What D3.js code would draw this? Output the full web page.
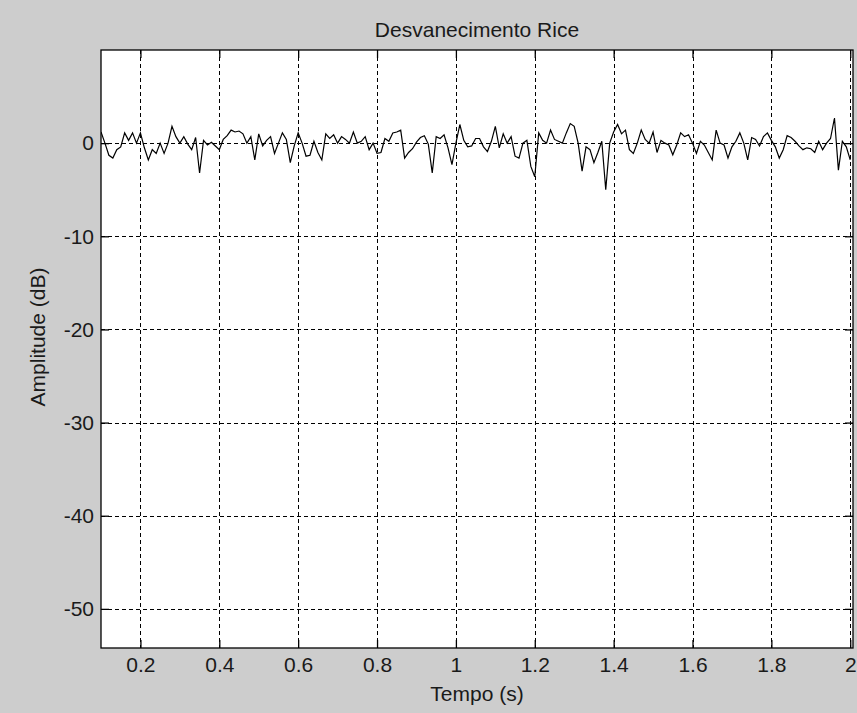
<!DOCTYPE html>
<html>
<head>
<meta charset="utf-8">
<script src="https://cdn.jsdelivr.net/npm/d3@7"></script>
<style>
  html, body { margin: 0; padding: 0; background: #cdcdcd; }
  svg { display: block; }
  text { font-family: "Liberation Sans", Arial, sans-serif; fill: #1a1a1a; }
</style>
</head>
<body>
<svg id="chart" width="857" height="713"></svg>
<script>
// ---- data ----
const title = "Desvanecimento Rice";
const xLabel = "Tempo (s)";
const yLabel = "Amplitude (dB)";
const tStart = 0.10;      // first sample time (s)
const tStep = 0.01;       // sampling interval (s)
const amplitudeDb = [
  1.2, 0.0, -1.3, -1.6, -0.7, -0.4, 1.1, 0.3, 1.1, 0.0,
  1.1, -0.5, -1.8, -0.7, -1.1, 0.0, -1.1, 0.0, 1.8, 0.7,
  0.0, 0.7, -0.1, -0.7, 0.6, -3.2, 0.3, -0.2, 0.1, -0.3,
  -0.7, 0.4, 0.8, 1.4, 1.2, 1.3, 1.0, 0.0, 0.7, -1.8,
  1.0, -0.3, 0.3, 0.7, -1.1, 0.0, 1.1, 0.4, -2.1, -0.3,
  1.1, 0.0, -1.4, -1.3, 0.2, -1.0, -1.8, 1.0, 0.5, 0.9,
  0.0, 0.7, 0.4, 0.0, 1.2, 0.0, 0.2, 0.7, -0.7, 0.0,
  -1.1, -1.0, 0.5, 0.2, 1.1, 1.2, 1.4, -1.6, -1.0, -0.6,
  0.1, 0.6, 0.8, -0.1, -3.2, 0.7, 0.5, 0.9, -0.5, -2.3,
  0.0, 2.0, 0.3, -0.4, -0.3, 0.5, 0.5, -0.4, -0.9, 0.2,
  1.8, -0.5, 1.0, 0.0, 0.7, -1.4, -1.6, 0.0, 0.3, -2.5,
  -3.6, 1.1, 0.3, 0.0, 1.4, 0.4, 0.2, 0.0, 1.1, 2.1,
  1.8, 0.0, -3.0, -0.4, -0.7, -2.1, -1.0, 0.2, -5.0, 0.0,
  1.2, 2.0, 1.0, 1.4, -0.7, -1.1, 0.0, 1.4, 0.4, 0.0,
  1.2, -1.0, 0.3, 0.0, -0.2, -1.25, -0.2, 1.1, 0.7, 0.9,
  0.0, -1.1, 0.2, -0.2, -1.0, -1.8, 1.4, 0.0, -0.2, -1.6,
  -0.4, 0.2, 1.1, 0.0, -1.8, 0.6, 0.4, -0.3, 0.7, 1.1,
  0.3, -0.4, -1.6, -0.7, 0.8, 0.6, 0.2, -0.3, -0.7, -0.5,
  -0.6, -1.0, 0.2, -0.7, 0.0, 0.5, 2.7, -2.9, 0.2, -0.4,
  -1.8
];
const xTicks = [0.2, 0.4, 0.6, 0.8, 1.0, 1.2, 1.4, 1.6, 1.8, 2.0];
const xTickLabels = ["0.2", "0.4", "0.6", "0.8", "1", "1.2", "1.4", "1.6", "1.8", "2"];
const yTicks = [0, -10, -20, -30, -40, -50];
const yTickLabels = ["0", "-10", "-20", "-30", "-40", "-50"];
const xDomain = [0.1, 2.007];
const yDomain = [-54.2, 10];

// ---- layout ----
const svg = d3.select("#chart");
const L = 101, R = 853, T = 50, B = 648;
const W = R - L, H = B - T;
const fontSize = 21;

const x = d3.scaleLinear().domain(xDomain).range([L, R]);
const y = d3.scaleLinear().domain(yDomain).range([B, T]);

const data = amplitudeDb.map((v, i) => ({ t: tStart + i * tStep, v }));

// plot background
svg.append("rect").attr("x", L).attr("y", T).attr("width", W).attr("height", H).attr("fill", "#ffffff");

// grid lines (dashed)
const grid = svg.append("g").attr("stroke", "#000").attr("stroke-width", 1).attr("stroke-dasharray", "4,3");
grid.selectAll("line.gx").data(xTicks).join("line")
  .attr("x1", d => Math.round(x(d)) + 0.5).attr("x2", d => Math.round(x(d)) + 0.5)
  .attr("y1", T).attr("y2", B);
grid.selectAll("line.gy").data(yTicks).join("line")
  .attr("y1", d => Math.round(y(d)) + 0.5).attr("y2", d => Math.round(y(d)) + 0.5)
  .attr("x1", L).attr("x2", R);

// clip
svg.append("clipPath").attr("id", "clip").append("rect")
  .attr("x", L).attr("y", T).attr("width", W).attr("height", H);

// data line
const line = d3.line().x(d => x(d.t)).y(d => y(d.v));
svg.append("path").datum(data)
  .attr("clip-path", "url(#clip)")
  .attr("fill", "none").attr("stroke", "#000").attr("stroke-width", 1.2)
  .attr("stroke-linejoin", "miter")
  .attr("d", line);

// axes with inward ticks
const tickLen = 8;
const fmtX = (d, i) => xTickLabels[i];
const fmtY = (d, i) => yTickLabels[i];

const axB = svg.append("g").attr("transform", `translate(0,${B})`)
  .call(d3.axisBottom(x).tickValues(xTicks).tickFormat(fmtX).tickSize(-tickLen).tickPadding(9));
const axT = svg.append("g").attr("transform", `translate(0,${T})`)
  .call(d3.axisTop(x).tickValues(xTicks).tickFormat("").tickSize(-tickLen));
const axL = svg.append("g").attr("transform", `translate(${L},0)`)
  .call(d3.axisLeft(y).tickValues(yTicks).tickFormat(fmtY).tickSize(-tickLen).tickPadding(7));
const axR = svg.append("g").attr("transform", `translate(${R},0)`)
  .call(d3.axisRight(y).tickValues(yTicks).tickFormat("").tickSize(-tickLen));

[axB, axT, axL, axR].forEach(g => {
  g.select(".domain").remove();
  g.selectAll(".tick line").attr("stroke", "#000").attr("stroke-width", 1.3);
  g.selectAll(".tick text").attr("font-size", fontSize)
    .attr("font-family", "'Liberation Sans', Arial, sans-serif").attr("fill", "#1a1a1a");
});

// box
svg.append("rect").attr("x", L).attr("y", T).attr("width", W).attr("height", H)
  .attr("fill", "none").attr("stroke", "#000").attr("stroke-width", 1.3);

// titles
svg.append("text").attr("x", (L + R) / 2).attr("y", 37).attr("text-anchor", "middle")
  .attr("font-size", fontSize).text(title);
svg.append("text").attr("x", (L + R) / 2).attr("y", 701).attr("text-anchor", "middle")
  .attr("font-size", fontSize).text(xLabel);
svg.append("text").attr("transform", `translate(45,337) rotate(-90)`)
  .attr("text-anchor", "middle").attr("font-size", fontSize).text(yLabel);
</script>
</body>
</html>
